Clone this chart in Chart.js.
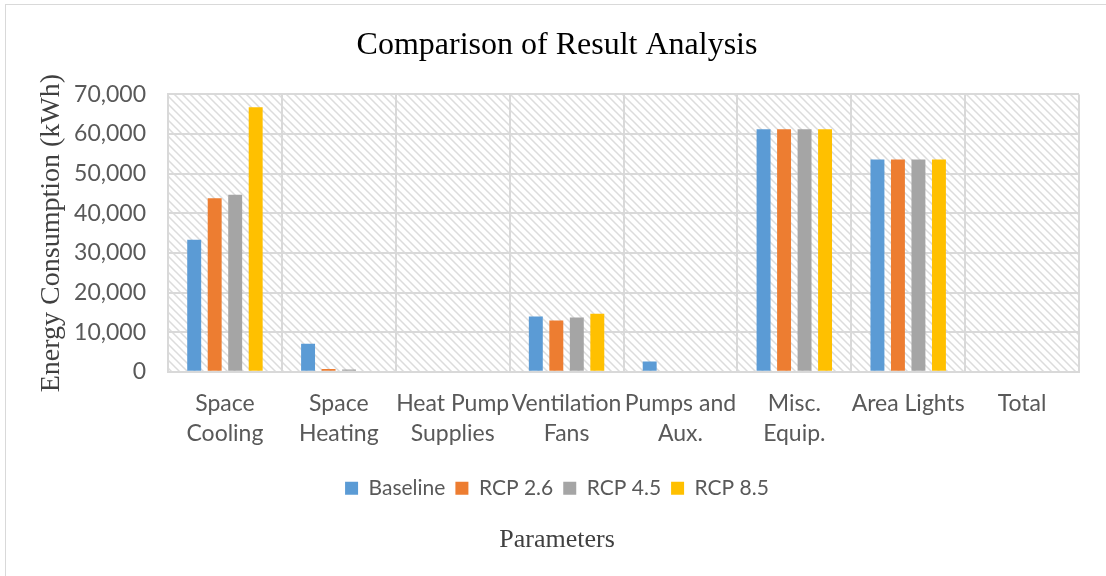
<!DOCTYPE html>
<html>
<head>
<meta charset="utf-8">
<script src="https://cdn.jsdelivr.net/npm/chart.js@4"></script>
<style>
    body { margin: 0; background: #fff; }
    #wrap { width: 1106px; height: 576px; position: relative; }
</style>
</head>
<body>
<div id="wrap"><canvas id="resultChart"></canvas></div>
<script>
// Data
const categories = [
    ['Space', 'Cooling'], ['Space', 'Heating'], ['Heat Pump', 'Supplies'], ['Ventilation', 'Fans'],
    ['Pumps and', 'Aux.'], ['Misc.', 'Equip.'], ['Area Lights'], ['Total']
];
const baseline = [33300, 7050, 0, 13950, 2600, 61230, 53600, 0];
const rcp26    = [43820, 680, 0, 12940, 0, 61230, 53600, 0];
const rcp45    = [44650, 580, 0, 13700, 0, 61230, 53600, 0];
const rcp85    = [66780, 0, 0, 14630, 0, 61230, 53600, 0];
const yTicks = { min: 0, max: 70000, step: 10000 };

const gridColor = '#d9d9d9';
const textColor = '#595959';

// diagonal hatch used behind the plot area
function makeHatch() {
    const c = document.createElement('canvas');
    c.width = 8; c.height = 8;
    const g = c.getContext('2d');
    g.strokeStyle = '#dcdcdc';
    g.lineWidth = 1.5;
    g.beginPath();
    g.moveTo(-1, -1); g.lineTo(9, 9);
    g.moveTo(-1, 7); g.lineTo(1, 9);
    g.moveTo(7, -1); g.lineTo(9, 1);
    g.stroke();
    return g.createPattern(c, 'repeat');
}

const backdrop = {
    id: 'backdrop',
    beforeDraw(chart) {
        const { ctx, chartArea: a } = chart;
        ctx.save();
        ctx.fillStyle = '#fff';
        ctx.fillRect(0, 0, chart.width, chart.height);
        ctx.strokeStyle = gridColor;
        ctx.lineWidth = 1;
        ctx.strokeRect(5.5, 4.5, 1300, 800);
        ctx.fillStyle = makeHatch();
        ctx.fillRect(a.left, a.top, a.right - a.left, a.bottom - a.top);
        ctx.restore();
    }
};

const ctx = document.getElementById('resultChart').getContext('2d');
const myChart = new Chart(ctx, {
    type: 'bar',
    data: {
        labels: categories,
        datasets: [
            { label: 'Baseline', data: baseline, backgroundColor: '#5b9bd5' },
            { label: 'RCP 2.6', data: rcp26, backgroundColor: '#ed7d31' },
            { label: 'RCP 4.5', data: rcp45, backgroundColor: '#a5a5a5' },
            { label: 'RCP 8.5', data: rcp85, backgroundColor: '#ffc000' }
        ]
    },
    options: {
        responsive: true,
        maintainAspectRatio: false,
        animation: false,
        categoryPercentage: 0.72,
        barPercentage: 0.68,
        layout: { padding: { left: 35, right: 27, top: 0, bottom: 0 } },
        scales: {
            x: {
                grid: { color: gridColor, lineWidth: 2, drawTicks: false },
                border: { color: gridColor, width: 2 },
                ticks: {
                    color: textColor, padding: 17, autoSkip: false, maxRotation: 0,
                    font: { family: 'Lato', size: 23, lineHeight: 1.3 }
                },
                afterFit(scale) { scale.height = 96; }
            },
            y: {
                min: yTicks.min,
                max: yTicks.max,
                grid: { color: gridColor, lineWidth: 2, drawTicks: false },
                border: { color: gridColor, width: 2 },
                ticks: {
                    stepSize: yTicks.step, color: textColor, padding: 22,
                    font: { family: 'Lato', size: 23 },
                    callback: v => v.toLocaleString('en-US')
                },
                title: {
                    display: true, text: 'Energy Consumption (kWh)', color: '#404040',
                    font: { family: 'Liberation Serif', size: 28 },
                    padding: { top: 0, bottom: 0 }
                },
                afterFit(scale) { scale.width = 133; }
            }
        },
        plugins: {
            title: {
                display: true, text: 'Comparison of Result Analysis', color: '#000',
                font: { family: 'Liberation Serif', size: 32, weight: 'normal' },
                padding: { top: 26, bottom: 30 }
            },
            subtitle: {
                display: true, position: 'bottom', text: 'Parameters', color: '#404040',
                font: { family: 'Liberation Serif', size: 26 },
                padding: { top: 16, bottom: 20 }
            },
            legend: {
                position: 'bottom',
                labels: {
                    color: textColor, boxWidth: 13, boxHeight: 13, padding: 10,
                    font: { family: 'Lato', size: 21 }
                }
            },
            tooltip: { enabled: false }
        }
    },
    plugins: [backdrop]
});
</script>
</body>
</html>
